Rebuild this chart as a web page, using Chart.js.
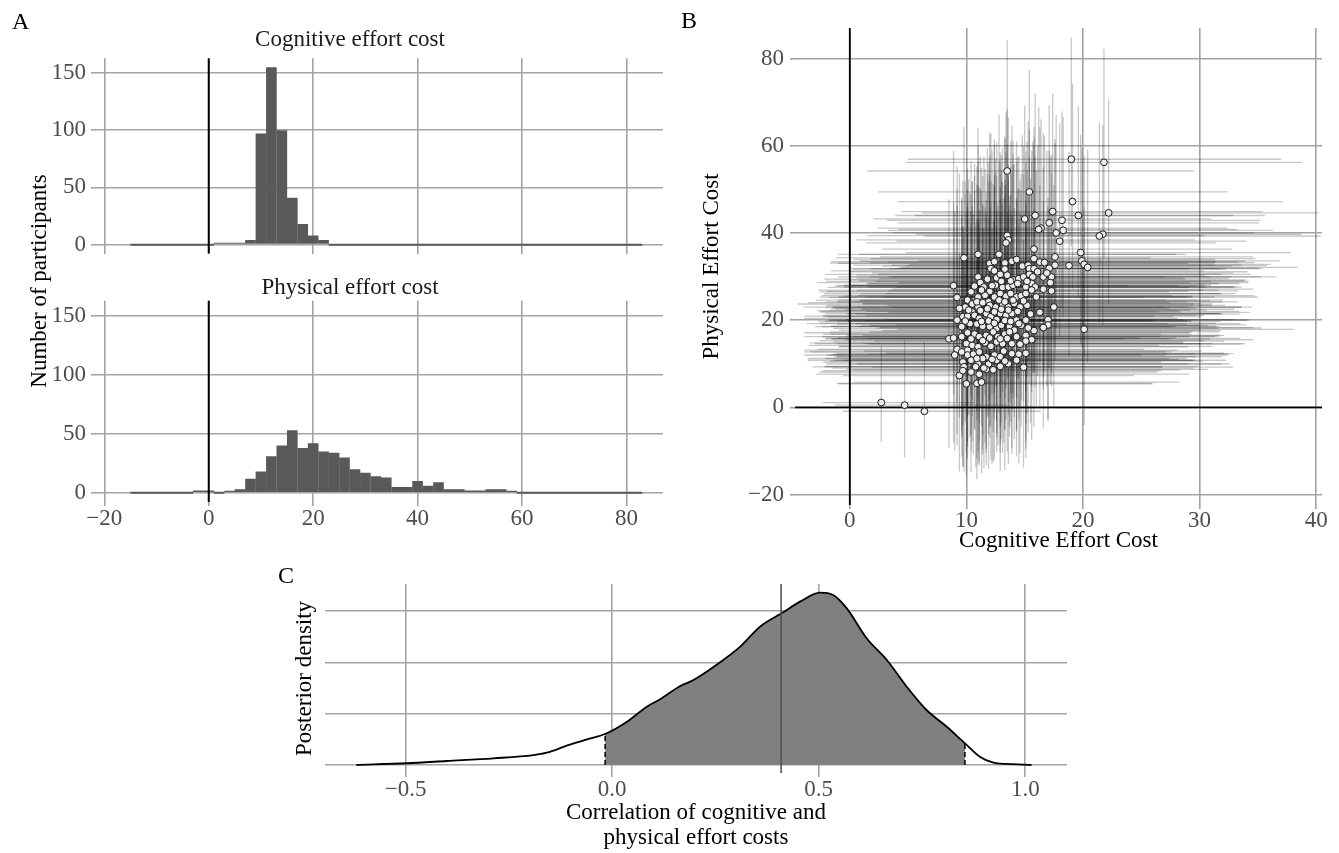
<!DOCTYPE html>
<html>
<head>
<meta charset="utf-8">
<title>Effort costs</title>
<script src="https://cdn.jsdelivr.net/npm/chart.js@4.4.1/dist/chart.umd.min.js"></script>
<style>
  body { margin: 0; background: #fff; }
  #figure {
    position: relative; width: 1339px; height: 853px; overflow: hidden;
    font-family: 'Liberation Serif', 'Times New Roman', serif; color: #000;
  }
  #figure canvas { position: absolute; }
  .panel-tag { position: absolute; font-size: 24px; line-height: 1; }
  .shared-title {
    position: absolute; font-size: 23px; line-height: 1; white-space: nowrap;
    transform: translate(-50%, -50%) rotate(-90deg);
  }
</style>
</head>
<body>
<div id="figure">
  <canvas id="histCog" width="680" height="270" style="left:0;top:0"></canvas>
  <canvas id="histPhys" width="680" height="285" style="left:0;top:255px"></canvas>
  <canvas id="costScatter" width="659" height="560" style="left:680px;top:0"></canvas>
  <canvas id="corrDensity" width="820" height="283" style="left:280px;top:570px"></canvas>
  <div class="panel-tag" style="left:12px;top:9px">A</div>
  <div class="panel-tag" style="left:681px;top:8px">B</div>
  <div class="panel-tag" style="left:278px;top:563px">C</div>
  <div class="shared-title" style="left:38px;top:281px">Number of participants</div>
</div>

<script>
/* ── Histogram data (bins of width 2, labelled by centre) ── */
const histBins = [-14, -12, -10, -8, -6, -4, -2, 0, 2, 4, 6, 8, 10, 12, 14, 16, 18, 20, 22, 24,
  26, 28, 30, 32, 34, 36, 38, 40, 42, 44, 46, 48, 50, 52, 54, 56, 58, 60, 62, 64,
  66, 68, 70, 72, 74, 76, 78, 80, 82];
const cogCounts = [0, 0, 0, 0, 0, 0, 0, 0, 1, 1, 1, 4, 97, 155, 100, 41, 18, 8, 4, 0,
  0, 0, 0, 0, 0, 0, 0, 0, 0, 0, 0, 0, 0, 0, 0, 0, 0, 0, 0, 0,
  0, 0, 0, 0, 0, 0, 0, 0, 0];
const physCounts = [0, 0, 0, 0, 0, 0, 2, 2, 0, 1, 3, 12, 18, 31, 40, 53, 38, 42, 35, 34,
  30, 20, 17, 14, 13, 5, 5, 10, 6, 9, 3, 3, 2, 2, 3, 3, 1, 0, 0, 0,
  0, 0, 0, 0, 0, 0, 0, 0, 0];
const histTicksX = [-20, 0, 20, 40, 60, 80];
const histTicksY = [0, 50, 100, 150];

/* ── Per-participant posterior means and interval offsets ── */
const cogCost = [
  19.0, 21.8, 13.5, 15.4, 19.1, 22.2, 19.6, 17.4, 15.9, 15.0,
  18.2, 17.1, 16.4, 16.2, 18.3, 17.7, 21.7, 21.4, 18.0, 13.5,
  13.6, 13.4, 15.8, 19.8, 19.9, 20.1, 20.4, 18.8, 9.8, 11.0,
  20.1, 17.5, 16.3, 17.0, 17.0, 16.6, 15.8, 15.1, 14.9, 8.9,
  9.2, 8.5, 8.9, 9.4, 10.0, 10.9, 11.3, 11.0, 17.3, 17.2,
  17.3, 16.6, 17.6, 17.6, 17.1, 2.7, 4.7, 6.4,
  12.0, 12.4, 12.8, 13.3, 13.9, 14.3, 14.8, 15.3, 15.8, 16.3, 16.7, 15.4, 15.8, 13.3, 12.1, 12.4,
  11.2, 12.6, 12.9, 13.5, 14.0, 14.5, 14.9, 15.4, 15.7, 16.1, 16.6, 16.9, 11.5, 12.0, 12.5, 13.1,
  13.6, 14.0, 14.4, 15.1, 15.6, 15.9, 15.2,
  10.1, 10.5, 11.0, 11.6, 11.9, 12.4, 12.9, 13.4, 13.8, 14.3, 14.7, 15.1, 15.6, 16.0, 12.5, 13.1,
  13.6, 14.1, 14.6, 15.2, 11.0, 10.5, 9.9, 9.4,
  9.7, 10.1, 10.7, 11.1, 11.7, 12.1, 12.6, 12.9, 13.4, 13.9, 14.3, 14.7, 15.1, 10.3, 10.9, 11.4,
  12.0, 12.6, 13.0, 13.7, 14.1, 14.5, 9.2, 9.6,
  9.6, 10.1, 10.7, 11.1, 11.7, 12.3, 12.7, 13.3, 13.7, 15.1, 15.6, 10.0, 10.5, 11.0, 11.6, 12.1,
  12.6, 13.1, 13.9, 15.1, 10.1,
  9.2, 9.6, 10.1, 10.6, 11.1, 11.7, 12.4, 13.2, 13.9, 14.5, 9.0, 9.7, 10.4, 11.0, 11.4, 11.9,
  12.6, 13.6, 14.3, 9.8, 10.8,
  9.7, 10.4, 11.1, 11.7, 12.9,
  10.4, 11.3, 12.2, 13.0, 13.8, 11.8, 10.7, 10.9, 11.4, 12.0, 12.8, 13.3, 14.0, 14.9,
  10.2, 11.2, 11.8, 12.4, 13.0, 13.6, 14.4, 15.5, 9.9, 11.3, 11.9, 12.4, 13.3, 13.8, 15.3,
  10.4, 11.4, 12.0, 12.9, 13.5, 14.3, 14.6, 10.9, 12.2, 12.9, 13.3, 11.5, 12.3
];
const physCost = [
  56.9, 56.2, 54.2, 49.4, 47.2, 44.6, 44.0, 44.9, 44.0, 43.2,
  42.9, 42.3, 41.1, 40.8, 40.6, 40.0, 39.7, 39.3, 38.1, 39.4,
  38.4, 37.7, 36.3, 35.5, 33.6, 32.8, 32.1, 32.5, 34.3, 35.1,
  17.9, 23.0, 21.8, 20.1, 18.9, 18.3, 17.6, 12.4, 9.2, 27.9,
  25.2, 15.7, 15.9, 7.3, 5.4, 5.5, 5.8, 29.9, 29.9, 28.6,
  26.7, 27.1, 34.5, 32.6, 31.9, 1.1, 0.5, -0.9,
  33.0, 33.4, 35.1, 33.1, 33.5, 33.9, 32.4, 32.6, 34.1, 33.3, 33.2, 31.8, 31.8, 31.7, 31.8, 31.3,
  28.6, 29.7, 30.5, 30.3, 29.2, 29.5, 29.9, 30.5, 29.9, 31.1, 29.9, 30.8, 27.6, 26.6, 28.0, 27.5,
  27.6, 28.0, 28.4, 27.6, 28.4, 27.6, 28.9,
  24.6, 23.7, 25.3, 25.7, 24.2, 25.3, 26.1, 25.5, 26.1, 25.3, 25.6, 26.1, 26.9, 25.3, 23.0, 23.7,
  23.0, 23.8, 23.0, 23.4, 23.0, 21.9, 23.0, 22.7,
  20.8, 20.9, 21.1, 20.4, 21.5, 20.8, 20.1, 21.5, 21.1, 21.5, 20.0, 18.8, 20.0, 19.2, 19.1, 18.6,
  18.5, 18.1, 18.8, 18.5, 17.7, 19.2, 20.0, 18.5,
  16.2, 17.1, 16.8, 16.2, 16.5, 17.3, 16.2, 16.8, 17.3, 16.5, 15.5, 14.6, 14.2, 13.9, 14.8, 14.0,
  15.0, 14.6, 14.6, 15.2, 13.1,
  13.3, 12.7, 12.0, 12.2, 12.7, 11.6, 12.0, 12.9, 12.3, 12.2, 12.0, 10.4, 10.8, 10.0, 11.2, 9.9,
  10.8, 10.0, 10.8, 9.3, 9.3,
  8.4, 8.1, 7.6, 8.7, 9.4,
  26.5, 26.9, 27.9, 28.9, 29.0, 29.4, 27.8, 24.2, 24.0, 23.4, 24.6, 24.2, 24.6, 24.4,
  22.3, 22.2, 22.6, 21.9, 22.5, 22.3, 22.0, 21.4, 19.8, 19.7, 19.8, 19.3, 19.9, 19.7, 18.2,
  15.7, 15.3, 15.9, 15.7, 15.8, 16.2, 14.5, 11.2, 11.0, 11.6, 10.6, 9.0, 8.6
];
// distance from each mean to the lower / upper end of its interval
const cogLow = [
  14, 17, 12, 13, 15, 16, 14, 13, 12, 13, 15, 13, 14, 12, 15, 14, 16, 15, 14, 12,
  13, 12, 13, 15, 14, 15, 16, 14, 11, 12, 16, 14, 13, 14, 13, 14, 13, 12, 13, 10,
  11, 10, 11, 10, 11, 12, 11, 12, 14, 13, 14, 13, 15, 14, 13, 5, 6, 7,
  13, 14, 12, 15, 13, 14, 12, 15, 14, 13, 15, 12, 14, 13, 12, 14,
  14, 12, 15, 13, 14, 12, 15, 13, 14, 16, 13, 15, 12, 14, 13, 15, 12, 14, 13, 15, 14, 12, 13,
  13, 15, 12, 14, 13, 15, 12, 14, 16, 13, 14, 12, 15, 13, 14, 12, 15, 13, 14, 12, 15, 13, 12, 11,
  12, 14, 13, 15, 12, 14, 13, 15, 12, 14, 16, 13, 15, 14, 12, 13, 15, 14, 12, 13, 15, 14, 11, 12,
  12, 14, 13, 15, 12, 14, 13, 15, 12, 14, 16, 13, 14, 12, 15, 13, 14, 12, 15, 13, 14,
  12, 13, 14, 12, 15, 13, 14, 12, 15, 13, 11, 12, 14, 13, 15, 12, 14, 13, 15, 12, 14,
  12, 13, 14, 12, 15,
  13, 14, 12, 15, 13, 14, 12, 13, 15, 14, 12, 13, 15, 14, 12, 14, 13, 15, 12, 14, 13, 15,
  12, 14, 13, 15, 12, 14, 13, 12, 14, 13, 15, 12, 14, 13, 13, 12, 14, 15, 13, 12
];
const cogHigh = [
  18, 17, 16, 17, 18, 18, 16, 18, 17, 16, 17, 18, 16, 17, 18, 17, 17, 19, 16, 17,
  16, 18, 17, 18, 17, 16, 18, 17, 16, 17, 18, 17, 18, 16, 17, 18, 16, 17, 18, 15,
  16, 15, 16, 15, 16, 15, 17, 16, 18, 17, 16, 18, 17, 16, 18, 8, 9, 10,
  17, 19, 16, 18, 20, 17, 18, 16, 19, 17, 18, 20, 16, 19, 17, 18,
  18, 16, 19, 17, 20, 18, 16, 19, 17, 18, 20, 16, 19, 17, 18, 16, 20, 17, 19, 18, 16, 17, 19,
  17, 19, 18, 16, 20, 17, 19, 16, 18, 17, 20, 18, 16, 19, 17, 18, 20, 16, 19, 17, 18, 16, 17, 18,
  18, 16, 19, 17, 20, 18, 16, 19, 17, 18, 20, 16, 19, 17, 18, 20, 16, 19, 17, 18, 16, 19, 17, 18,
  17, 19, 16, 18, 20, 17, 19, 16, 18, 17, 19, 20, 16, 18, 17, 19, 16, 18, 20, 17, 18,
  16, 18, 17, 19, 16, 18, 20, 17, 19, 18, 16, 17, 19, 18, 16, 20, 17, 19, 18, 17, 16,
  17, 16, 18, 19, 17,
  17, 19, 16, 18, 20, 17, 19, 18, 16, 19, 17, 20, 18, 16, 19, 17, 18, 16, 20, 17, 19, 18,
  16, 18, 17, 19, 16, 18, 20, 17, 19, 16, 18, 20, 17, 19, 18, 16, 19, 17, 18, 16
];
const physLow = [
  20, 22, 24, 22, 20, 21, 19, 22, 23, 21, 20, 22, 21, 23, 20, 22, 21, 20, 22, 24,
  23, 24, 22, 21, 20, 21, 22, 21, 25, 24, 22, 23, 22, 23, 22, 23, 22, 24, 23, 25,
  24, 25, 24, 22, 21, 22, 21, 25, 22, 23, 22, 23, 21, 22, 23, 9, 12, 11,
  24, 22, 26, 23, 25, 21, 24, 22, 26, 23, 25, 22, 24, 21, 25, 23,
  23, 25, 22, 24, 26, 23, 21, 25, 22, 24, 23, 26, 22, 25, 23, 24, 21, 26, 22, 24, 25, 23, 22,
  24, 22, 25, 23, 26, 22, 24, 21, 25, 23, 24, 26, 22, 25, 23, 24, 22, 26, 23, 25, 21, 24, 23, 25,
  25, 23, 26, 24, 22, 25, 23, 26, 24, 22, 25, 23, 24, 26, 22, 25, 23, 24, 26, 23, 25, 22, 26, 24,
  23, 25, 22, 24, 26, 23, 25, 22, 24, 26, 23, 25, 22, 24, 23, 26, 22, 25, 24, 23, 25,
  22, 24, 21, 23, 25, 22, 24, 21, 23, 25, 22, 24, 21, 23, 22, 24, 21, 23, 22, 24, 23,
  22, 23, 21, 22, 24,
  24, 22, 25, 23, 26, 24, 22, 25, 23, 24, 26, 22, 25, 23, 24, 22, 25, 23, 26, 24, 22, 25,
  23, 24, 26, 22, 25, 23, 24, 22, 25, 23, 24, 26, 22, 25, 23, 24, 22, 25, 23, 21
];
const physHigh = [
  28, 26, 30, 28, 27, 26, 25, 27, 28, 26, 25, 27, 25, 28, 26, 27, 25, 26, 27, 29,
  28, 30, 28, 27, 26, 25, 27, 26, 30, 29, 28, 28, 29, 28, 27, 29, 28, 30, 29, 31,
  30, 32, 31, 28, 29, 28, 29, 30, 28, 29, 27, 28, 27, 28, 27, 13, 15, 16,
  30, 28, 32, 29, 31, 27, 30, 33, 28, 31, 29, 32, 28, 30, 31, 29,
  29, 31, 28, 30, 32, 28, 30, 27, 31, 29, 33, 28, 30, 31, 29, 32, 28, 30, 29, 31, 28, 30, 32,
  30, 28, 31, 29, 32, 28, 30, 33, 29, 31, 28, 30, 32, 29, 31, 28, 30, 32, 29, 31, 28, 30, 29, 31,
  31, 29, 32, 30, 28, 31, 33, 29, 30, 32, 28, 31, 29, 30, 32, 28, 31, 29, 33, 30, 28, 31, 30, 29,
  32, 30, 33, 29, 31, 34, 30, 32, 29, 31, 33, 30, 32, 29, 31, 33, 30, 32, 29, 31, 30,
  33, 31, 34, 32, 30, 33, 31, 35, 32, 30, 33, 31, 34, 32, 30, 33, 31, 34, 32, 30, 33,
  33, 34, 32, 35, 31,
  30, 28, 31, 29, 32, 30, 28, 31, 29, 30, 32, 28, 31, 29, 30, 28, 31, 29, 32, 30, 28, 31,
  29, 30, 32, 28, 31, 29, 30, 33, 31, 30, 32, 29, 31, 30, 32, 30, 33, 31, 32, 34
];
const scatterTicksX = [0, 10, 20, 30, 40];
const scatterTicksY = [-20, 0, 20, 40, 60, 80];

/* ── Posterior of the correlation ── */
const corrGrid = [-0.619, -0.497, -0.40, -0.287, -0.19, -0.158, -0.11, -0.061, -0.017, 0.036,
  0.084, 0.116, 0.165, 0.197, 0.269, 0.31, 0.358, 0.41, 0.455, 0.503,
  0.535, 0.568, 0.616, 0.665, 0.713, 0.761, 0.81, 0.854, 0.89, 0.923, 0.955, 1.015];
const corrDens = [0, 0.017, 0.039, 0.065, 0.097, 0.12, 0.188, 0.25, 0.302, 0.422,
  0.568, 0.64, 0.77, 0.828, 1.023, 1.153, 1.348, 1.478, 1.592, 1.68,
  1.657, 1.527, 1.235, 1.023, 0.763, 0.536, 0.373, 0.211, 0.081, 0.022, 0.01, 0];
const hdiLow = -0.017;
const hdiHigh = 0.854;
const corrMean = 0.409;
const corrTicksX = [-0.5, 0, 0.5, 1];
const densityGridY = [0, 0.5, 1, 1.5];

/* ── Shared styling ── */
Chart.defaults.font.family = "'Liberation Serif', 'Times New Roman', serif";
Chart.defaults.font.size = 23;
Chart.defaults.color = '#4d4d4d';
Chart.defaults.animation = false;
Chart.defaults.plugins.legend.display = false;
Chart.defaults.plugins.tooltip.enabled = false;

const GRID = '#a3a3a3';
const tickFont = { size: 23, lineHeight: 1 };
const minus = v => String(v).replace('-', '\u2212');
const fixTicks = values => scale => { scale.ticks = values.map(v => ({ value: v })); };

// vertical reference at zero for the histograms
const zeroLine = {
  id: 'zeroLine',
  afterDatasetsDraw(chart) {
    const { ctx, chartArea: a, scales: { x } } = chart;
    const px = x.getPixelForValue(0);
    ctx.save();
    ctx.strokeStyle = '#000';
    ctx.lineWidth = 2;
    ctx.beginPath();
    ctx.moveTo(px, a.top);
    ctx.lineTo(px, a.bottom);
    ctx.stroke();
    ctx.restore();
  }
};

function histogram(id, title, counts, pad, titlePad, showX) {
  return new Chart(document.getElementById(id), {
    type: 'bar',
    data: {
      datasets: [{
        data: histBins.map((b, i) => ({ x: b, y: counts[i] })),
        backgroundColor: '#595959',
        borderWidth: 0,
        barPercentage: 1.02,
        categoryPercentage: 1,
        minBarLength: 2
      }]
    },
    options: {
      responsive: false,
      layout: { padding: pad },
      plugins: {
        title: {
          display: true, text: title, color: '#1a1a1a',
          font: { size: 23, weight: 'normal', lineHeight: 1 }, padding: titlePad
        }
      },
      scales: {
        x: {
          type: 'linear', min: -21.4, max: 87, offset: false,
          afterBuildTicks: fixTicks(histTicksX),
          ticks: { display: showX, padding: 1, font: tickFont, callback: minus },
          grid: { color: GRID, lineWidth: 1.6, drawTicks: showX, tickLength: 4, offset: false },
          border: { display: false },
          afterFit: s => { s.height = showX ? 38 : 0; }
        },
        y: {
          min: -7.75, max: 162.75,
          afterBuildTicks: fixTicks(histTicksY),
          ticks: { padding: 5, font: tickFont },
          grid: { color: GRID, lineWidth: 1.6, tickLength: 6 },
          border: { display: false },
          afterFit: s => { s.width = 60; }
        }
      }
    },
    plugins: [zeroLine]
  });
}

histogram('histCog', 'Cognitive effort cost', cogCounts,
  { left: 37, right: 17, top: 28.5, bottom: 10 }, { top: 0, bottom: 6.8 }, false);
histogram('histPhys', 'Physical effort cost', physCounts,
  { left: 37, right: 17, top: 21.5, bottom: 0 }, { top: 0, bottom: 1.2 }, true);

/* ── Scatter with posterior intervals ── */
const intervals = {
  id: 'intervals',
  beforeDatasetsDraw(chart) {
    const { ctx, chartArea: a, scales: { x, y } } = chart;
    ctx.save();
    ctx.beginPath();
    ctx.rect(a.left, a.top, a.width, a.height);
    ctx.clip();
    ctx.strokeStyle = 'rgba(0,0,0,0.22)';
    ctx.lineWidth = 1.3;
    cogCost.forEach((c, i) => {
      const p = physCost[i];
      if (cogLow[i] === undefined || physLow[i] === undefined) return;
      const px = x.getPixelForValue(c);
      const py = y.getPixelForValue(p);
      ctx.beginPath();
      ctx.moveTo(x.getPixelForValue(c - cogLow[i]), py);
      ctx.lineTo(x.getPixelForValue(c + cogHigh[i]), py);
      ctx.moveTo(px, y.getPixelForValue(p - physLow[i]));
      ctx.lineTo(px, y.getPixelForValue(p + physHigh[i]));
      ctx.stroke();
    });
    // zero reference lines
    ctx.strokeStyle = '#000';
    ctx.lineWidth = 1.8;
    const x0 = x.getPixelForValue(0);
    const y0 = y.getPixelForValue(0);
    ctx.beginPath();
    ctx.moveTo(x0, a.top); ctx.lineTo(x0, a.bottom);
    ctx.moveTo(a.left, y0); ctx.lineTo(a.right, y0);
    ctx.stroke();
    ctx.restore();
  }
};

new Chart(document.getElementById('costScatter'), {
  type: 'scatter',
  data: {
    datasets: [{
      data: cogCost.map((c, i) => ({ x: c, y: physCost[i] })),
      pointRadius: 3.4,
      pointBorderWidth: 1,
      pointBackgroundColor: '#ececec',
      pointBorderColor: '#1a1a1a'
    }]
  },
  options: {
    responsive: false,
    layout: { padding: { left: 18, right: 17, top: 28, bottom: 0 } },
    scales: {
      x: {
        type: 'linear', min: -4.7, max: 40.5,
        afterBuildTicks: fixTicks(scatterTicksX),
        ticks: { padding: 0, font: tickFont },
        grid: { color: GRID, lineWidth: 1.6, tickLength: 4 },
        border: { display: false },
        title: { display: true, text: 'Cognitive Effort Cost', color: '#000', padding: { top: 0, bottom: 5 } },
        afterFit: s => { s.height = 55; }
      },
      y: {
        min: -22.4, max: 87,
        afterBuildTicks: fixTicks(scatterTicksY),
        ticks: { padding: 6, font: tickFont, callback: minus },
        grid: { color: GRID, lineWidth: 1.6, tickLength: 5 },
        border: { display: false },
        title: { display: true, text: 'Physical Effort Cost', color: '#000', padding: { top: 0, bottom: 0 } },
        afterFit: s => { s.width = 97; }
      }
    }
  },
  plugins: [intervals]
});

/* ── Posterior density of the correlation ── */
const intervalMarks = {
  id: 'intervalMarks',
  afterDatasetsDraw(chart) {
    const { ctx, chartArea: a, scales: { x, y } } = chart;
    ctx.save();
    ctx.strokeStyle = '#4d4d4d';
    ctx.lineWidth = 1.5;
    const mx = x.getPixelForValue(corrMean);
    ctx.beginPath();
    ctx.moveTo(mx, a.top);
    ctx.lineTo(mx, a.bottom);
    ctx.stroke();
    ctx.strokeStyle = '#000';
    ctx.setLineDash([5, 3]);
    [hdiLow, hdiHigh].forEach(b => {
      const bx = x.getPixelForValue(b);
      ctx.beginPath();
      ctx.moveTo(bx, y.getPixelForValue(0));
      ctx.lineTo(bx, y.getPixelForValue(corrDens[corrGrid.indexOf(b)]));
      ctx.stroke();
    });
    ctx.restore();
  }
};

const densityPoints = corrGrid.map((r, i) => ({ x: r, y: corrDens[i] }));

new Chart(document.getElementById('corrDensity'), {
  type: 'line',
  data: {
    datasets: [
      {
        data: densityPoints,
        borderColor: '#000', borderWidth: 1.8,
        pointRadius: 0, fill: false,
        cubicInterpolationMode: 'monotone', order: 0
      },
      {
        data: densityPoints.filter(p => p.x >= hdiLow && p.x <= hdiHigh),
        borderWidth: 0, backgroundColor: '#808080',
        pointRadius: 0, fill: 'origin',
        cubicInterpolationMode: 'monotone', order: 1
      }
    ]
  },
  options: {
    responsive: false,
    layout: { padding: { left: 11, right: 33, top: 14, bottom: 0 } },
    scales: {
      x: {
        type: 'linear', min: -0.695, max: 1.101,
        afterBuildTicks: fixTicks(corrTicksX),
        ticks: { padding: 1.5, font: tickFont, callback: v => minus(v.toFixed(1)) },
        grid: { color: GRID, lineWidth: 1.6, tickLength: 4 },
        border: { display: false },
        title: {
          display: true, text: ['Correlation of cognitive and', 'physical effort costs'],
          color: '#000', font: { size: 23, lineHeight: 1.087 }, padding: { top: 0, bottom: 2.5 }
        },
        afterFit: s => { s.height = 80; }
      },
      y: {
        min: -0.078, max: 1.764,
        afterBuildTicks: fixTicks(densityGridY),
        ticks: { display: false },
        grid: { color: GRID, lineWidth: 1.6, drawTicks: false },
        border: { display: false },
        title: { display: true, text: 'Posterior density', color: '#000', padding: { top: 0, bottom: 0 } },
        afterFit: s => { s.width = 34; }
      }
    }
  },
  plugins: [intervalMarks]
});
</script>
</body>
</html>
